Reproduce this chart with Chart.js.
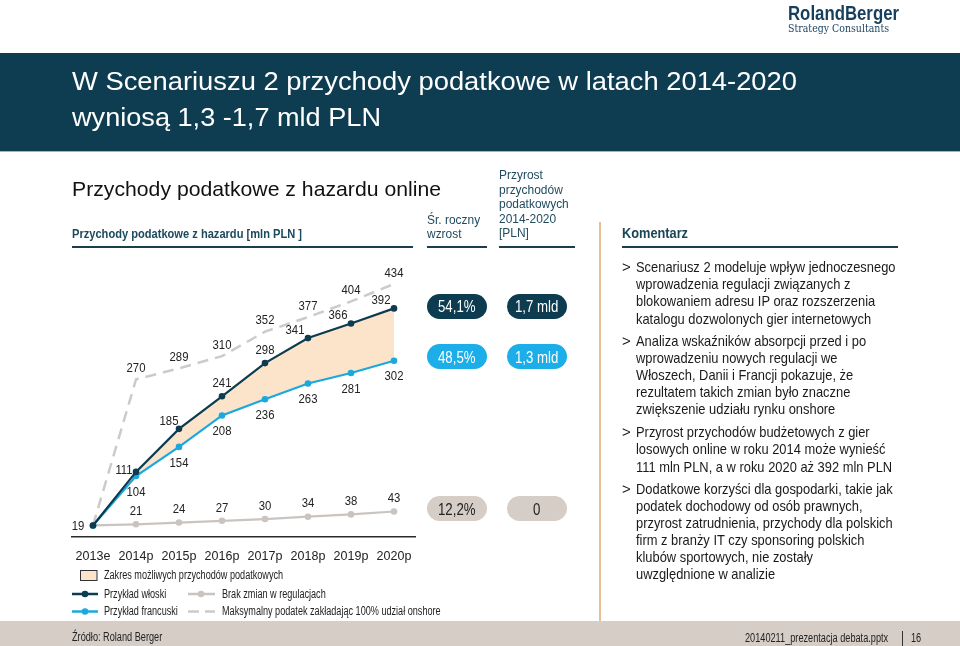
<!DOCTYPE html>
<html><head><meta charset="utf-8">
<script src="https://cdn.jsdelivr.net/npm/chart.js@4.4.1/dist/chart.umd.min.js"></script>
<style>
html,body{margin:0;padding:0;background:#fff;}
body{width:960px;height:646px;position:relative;overflow:hidden;font-family:'Liberation Sans Narrow','Arial Narrow','Liberation Sans',Arial,sans-serif;}
.t{position:absolute;white-space:nowrap;line-height:1;transform-origin:0 50%;}
.r{position:absolute;}
</style></head><body>
<div class="r" style="left:0;top:53px;width:960px;height:98px;background:#0E3D52"></div>
<div class="r" style="left:0;top:151px;width:960px;height:1px;background:#9fb6c2"></div>
<div class="r" style="left:72px;top:246px;width:341px;height:2px;background:#1C3D4E"></div>
<div class="r" style="left:427px;top:246px;width:60px;height:2px;background:#1C3D4E"></div>
<div class="r" style="left:499px;top:246px;width:76px;height:2px;background:#1C3D4E"></div>
<div class="r" style="left:622px;top:246px;width:276px;height:2px;background:#1C3D4E"></div>
<div class="r" style="left:599px;top:222px;width:2px;height:399px;background:#E6C197"></div>
<div class="r" style="left:0;top:621px;width:960px;height:25px;background:#D6CDC6"></div>
<div class="r" style="left:902px;top:631px;width:1px;height:15px;background:#333"></div>
<canvas id="c" width="370" height="330" style="position:absolute;left:60px;top:250px;width:370px;height:330px"></canvas>
<svg class="r" style="left:0;top:0" width="960" height="646">
  <rect x="80.5" y="570.5" width="16.5" height="10" fill="#FCE4CB" stroke="#333" stroke-width="1"/>
  <line x1="72" y1="594" x2="98" y2="594" stroke="#0D3C50" stroke-width="2.5"/>
  <circle cx="85" cy="594" r="3.3" fill="#0D3C50"/>
  <line x1="72" y1="611.5" x2="98" y2="611.5" stroke="#1AA8E0" stroke-width="2.5"/>
  <circle cx="85" cy="611.5" r="3.3" fill="#1AA8E0"/>
  <line x1="188" y1="594" x2="215" y2="594" stroke="#CAC4C0" stroke-width="2.5"/>
  <circle cx="201" cy="594" r="3.3" fill="#CAC4C0"/>
  <line x1="188" y1="611.5" x2="215" y2="611.5" stroke="#CFCAC6" stroke-width="2.5" stroke-dasharray="11 6"/>
</svg>
<div id="texts"></div>
<script>
// ---- data ----
const categories = ['2013e','2014p','2015p','2016p','2017p','2018p','2019p','2020p'];
const italianExample = [19,111,185,241,298,341,366,392];
const frenchExample = [19,104,154,208,236,263,281,302];
const noRegulationChange = [19,21,24,27,30,34,38,43];
const maxTaxFullOnshore = [19,270,289,310,352,377,404,434];
const avgAnnualGrowth = ['54,1%','48,5%','12,2%'];
const revenueGrowth20142020 = ['1,7 mld','1,3 mld','0'];
const seriesNames = ['Przykład włoski','Przykład francuski','Brak zmian w regulacjach','Maksymalny podatek zakładając 100% udział onshore'];

const NARROW = "'Liberation Sans Narrow','Arial Narrow','Liberation Sans',Arial,sans-serif";
const REG = "'Liberation Sans',Arial,sans-serif";
const C_DARK = '#0D3C50', C_BLUE = '#1AA8E0', C_GRAY = '#CAC4C0', C_DASH = '#CFCAC6', C_FILL = '#FCE4CB';

// ---- chart ----
const labelPlugin = {
  id: 'valueLabels',
  afterDatasetsDraw(chart) {
    const ctx = chart.ctx;
    const place = [
      i => i === 0 ? null : i === 1 ? [-12, -2] : i === 2 ? [-10, -8] : (i === 3 || i === 4) ? [0, -13] : [-13, -8],
      i => i === 0 ? null : [0, 16],
      i => i === 0 ? [-15, 1] : [0, -13],
      i => i === 0 ? null : [0, -11]
    ];
    chart.data.datasets.forEach((ds, di) => {
      const meta = chart.getDatasetMeta(di);
      meta.data.forEach((pt, i) => {
        const off = place[di](i);
        if (!off) return;
        ctx.save();
        ctx.font = '13.5px ' + NARROW;
        ctx.fillStyle = '#222';
        ctx.textAlign = 'center';
        ctx.textBaseline = 'middle';
        ctx.translate(pt.x + off[0], pt.y + off[1]);
        ctx.scale(0.84, 1);
        ctx.fillText(String(ds.data[i]), 0, 0);
        ctx.restore();
      });
    });
  }
};

new Chart(document.getElementById('c'), {
  type: 'line',
  data: {
    labels: categories,
    datasets: [
      {label: seriesNames[0], data: italianExample, borderColor: C_DARK, backgroundColor: C_FILL, fill: {target: 1},
       borderWidth: 2.2, pointRadius: 3.3, pointBackgroundColor: C_DARK, pointBorderWidth: 0, tension: 0},
      {label: seriesNames[1], data: frenchExample, borderColor: C_BLUE, fill: false,
       borderWidth: 2.2, pointRadius: 3.3, pointBackgroundColor: C_BLUE, pointBorderWidth: 0, tension: 0},
      {label: seriesNames[2], data: noRegulationChange, borderColor: C_GRAY, fill: false,
       borderWidth: 2.2, pointRadius: 3.3, pointBackgroundColor: C_GRAY, pointBorderWidth: 0, tension: 0},
      {label: seriesNames[3], data: maxTaxFullOnshore, borderColor: C_DASH, fill: false, borderDash: [11, 7],
       borderWidth: 2.5, pointRadius: 0, tension: 0}
    ]
  },
  options: {
    responsive: false, animation: false, events: [],
    layout: {padding: {left: 11.5, right: 14.5, top: 7.2, bottom: 0}},
    plugins: {legend: {display: false}, tooltip: {enabled: false}, filler: {drawTime: 'beforeDatasetsDraw'}},
    scales: {
      x: {offset: true, grid: {display: false, drawTicks: false},
          border: {display: true, color: '#2b2b2b', width: 1.5},
          ticks: {color: '#222', font: {family: NARROW, size: 12.5}, padding: 12.5, maxRotation: 0, autoSkip: false},
          afterFit(s) { s.height = 43.5; }},
      y: {display: false, min: 0, max: 480}
    }
  },
  plugins: [labelPlugin]
});

// ---- texts ----
const host = document.getElementById('texts');
const items = [];
function txt(s, x, cy, size, o) {
  o = o || {};
  const d = document.createElement('div');
  d.className = 't';
  d.textContent = s;
  d.style.fontSize = size + 'px';
  d.style.top = (cy - size / 2) + 'px';
  d.style.fontFamily = o.font || NARROW;
  d.style.color = o.color || '#1a1a1a';
  if (o.bold) d.style.fontWeight = 'bold';
  host.appendChild(d);
  items.push({d, x, w: o.w, g: o.g, align: o.align || 'left'});
}
// logo
txt('RolandBerger', 788, 12, 21, {bold: true, color: '#173F5C', w: 111});
txt('Strategy Consultants', 788, 28.5, 10.5, {font: "'DejaVu Serif','Liberation Serif',serif", color: '#173F5C', w: 101});
// title
txt('W Scenariuszu 2 przychody podatkowe w latach 2014-2020', 72, 81, 26, {font: REG, color: '#fff', w: 725});
txt('wyniosą 1,3 -1,7 mld PLN', 72, 117, 26, {font: REG, color: '#fff', w: 309});
// section
txt('Przychody podatkowe z hazardu online', 72, 188, 21, {font: REG, color: '#111', w: 369});
txt('Przychody podatkowe z hazardu [mln PLN ]', 72, 234, 13.5, {bold: true, color: '#1B4A5E', w: 230});
// column headers
const HC = '#1F4A5F';
txt('Śr. roczny', 427, 220.5, 12.5, {color: HC, g: 'h', w: 54});
txt('wzrost', 427, 234, 12.5, {color: HC, g: 'h', w: 35.7});
txt('Przyrost', 499, 175.5, 12.5, {color: HC, g: 'h', w: 44});
txt('przychodów', 499, 190, 12.5, {color: HC, g: 'h', w: 65.7});
txt('podatkowych', 499, 204.5, 12.5, {color: HC, g: 'h', w: 70.7});
txt('2014-2020', 499, 219.5, 12.5, {color: HC, g: 'h', w: 52.3});
txt('[PLN]', 499, 233.5, 12.5, {color: HC, g: 'h', w: 29.7});
txt('Komentarz', 622, 233, 15.5, {bold: true, color: '#1B4558', w: 66});
// bullets
const bullets = [
  [266.7, ['Scenariusz 2 modeluje wpływ jednoczesnego', 262], ['wprowadzenia regulacji związanych z', 209.6], ['blokowaniem adresu IP oraz rozszerzenia', 240.7], ['katalogu dozwolonych gier internetowych', 236.7]],
  [340.3, ['Analiza wskaźników absorpcji przed i po', 232.3], ['wprowadzeniu nowych regulacji we', 196.3], ['Włoszech, Danii i Francji pokazuje, że', 213.3], ['rezultatem takich zmian było znaczne', 216.7], ['zwiększenie udziału rynku onshore', 201.3]],
  [431.8, ['Przyrost przychodów budżetowych z gier', 235.7], ['losowych online w roku 2014 może wynieść', 251.3], ['111 mln PLN, a w roku 2020 aż 392 mln PLN', 258.3]],
  [488, ['Dodatkowe korzyści dla gospodarki, takie jak', 259], ['podatek dochodowy od osób prawnych,', 213.3], ['przyrost zatrudnienia, przychody dla polskich', 259], ['firm z branży IT czy sponsoring polskich', 230.7], ['klubów sportowych, nie zostały', 178.3], ['uwzględnione w analizie', 139.7]]
];
bullets.forEach(b => {
  const y0 = b[0];
  txt('>', 622, y0, 15, {color: '#1a1a1a'});
  for (let k = 1; k < b.length; k++) {
    txt(b[k][0], 636, y0 + (k - 1) * 17.1, 15, {color: '#1a1a1a', g: 'b', w: b[k][1]});
  }
});
// legend
txt('Zakres możliwych przychodów podatkowych', 104, 575.5, 12.5, {color: '#222', g: 'l', w: 178.5});
txt(seriesNames[0], 104, 594, 12.5, {color: '#222', g: 'l', w: 63});
txt(seriesNames[2], 222, 594, 12.5, {color: '#222', g: 'l', w: 103});
txt(seriesNames[1], 104, 611.5, 12.5, {color: '#222', g: 'l', w: 75});
txt(seriesNames[3], 222, 611.5, 12.5, {color: '#222', g: 'l', w: 218});
// footer
txt('Źródło: Roland Berger', 72, 637.5, 12.5, {color: '#222', g: 'f', w: 93});
txt('20140211_prezentacja debata.pptx', 745, 638, 12.5, {color: '#222', g: 'f', w: 142});
txt('16', 911, 638, 12.5, {color: '#222', g: 'f', w: 8.6});

// pills
const pillRows = [{cy: 306, bg: C_DARK, fg: '#fff'}, {cy: 356.5, bg: '#1BAEE8', fg: '#fff'}, {cy: 508.5, bg: '#D6CDC6', fg: '#222'}];
pillRows.forEach((r, i) => {
  [[427, avgAnnualGrowth[i]], [507, revenueGrowth20142020[i]]].forEach(([x, s]) => {
    const p = document.createElement('div');
    p.className = 'r';
    p.style.cssText = `left:${x}px;top:${r.cy - 12.5}px;width:60px;height:25px;border-radius:12.5px;background:${r.bg}`;
    host.appendChild(p);
    txt(s, x + 30, r.cy + 0.5, 17, {color: r.fg, g: 'p', align: 'center', w: s === '54,1%' ? 37.5 : null});
  });
});

// fit text widths (per-group common horizontal scale)
const groups = {};
items.forEach(it => { it.m = it.d.getBoundingClientRect().width; });
items.forEach(it => {
  if (!it.g) return;
  const g = groups[it.g] || (groups[it.g] = {t: 0, m: 0});
  if (it.w) { g.t += it.w; g.m += it.m; }
});
items.forEach(it => {
  let k = 1;
  if (it.g && groups[it.g].m > 0) k = groups[it.g].t / groups[it.g].m;
  else if (it.w) k = it.w / it.m;
  it.d.style.transform = `scaleX(${k})`;
  const left = it.align === 'center' ? it.x - it.m * k / 2 : it.x;
  it.d.style.left = left + 'px';
});
</script>
</body></html>
